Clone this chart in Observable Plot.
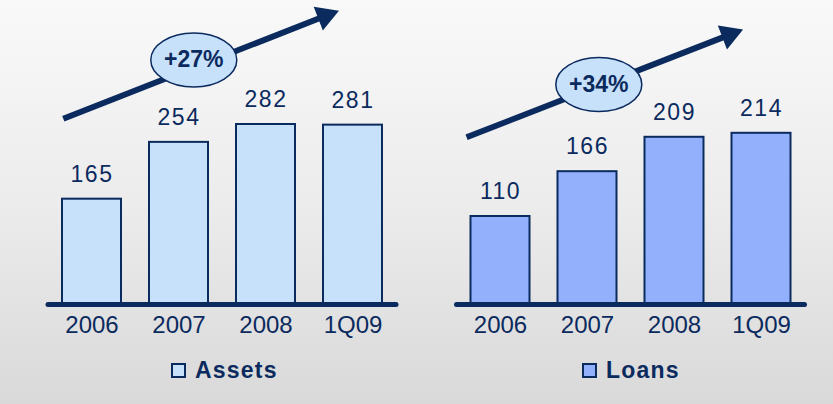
<!DOCTYPE html>
<html>
<head>
<meta charset="utf-8">
<script src="https://cdn.jsdelivr.net/npm/d3@7"></script>
<script src="https://cdn.jsdelivr.net/npm/@observablehq/plot@0.6"></script>
<style>
  html, body { margin: 0; padding: 0; }
  #wrap {
    position: relative; width: 833px; height: 404px; overflow: hidden;
    background: linear-gradient(to bottom, #f9f9f9 0%, #ececec 50%, #d9d9d9 100%);
    font-family: "Liberation Sans", Arial, sans-serif;
  }
  .panel { position: absolute; top: 0; }
  .legend {
    position: absolute; top: 358px; height: 24px; display: flex; align-items: center; gap: 9px;
    font-size: 23px; font-weight: bold; color: #0b2a5e; letter-spacing: 1.2px;
  }
  .legend .sw { width: 15px; height: 15px; box-sizing: border-box; border: 2px solid #0b2a5e; }
</style>
</head>
<body>
<div id="wrap"></div>
<script>
// ---- data ----
const categories = ["2006", "2007", "2008", "1Q09"];
const assets = [165, 254, 282, 281];
const loans = [110, 166, 209, 214];
const seriesNames = ["Assets", "Loans"];
const growthLabels = ["+27%", "+34%"];
// trend-arrow annotations in data units: [start index, start value, head index, head value]
const assetsArrow = [-0.33, 291, 2.68, 452];
const loansArrow = [-0.39, 209, 2.63, 337];
// growth badge centres in data units: [index, value]
const assetsBadge = [1.17, 383];
const loansBadge = [1.13, 275];

const NAVY = "#0b2a5e";
const FONT = "'Liberation Sans', Arial, sans-serif";

const ellipseSymbol = {
  draw(ctx) {
    const rx = 43, ry = 27, k = 0.5523;
    ctx.moveTo(rx, 0);
    ctx.bezierCurveTo(rx, ry * k, rx * k, ry, 0, ry);
    ctx.bezierCurveTo(-rx * k, ry, -rx, ry * k, -rx, 0);
    ctx.bezierCurveTo(-rx, -ry * k, -rx * k, -ry, 0, -ry);
    ctx.bezierCurveTo(rx * k, -ry, rx, -ry * k, rx, 0);
    ctx.closePath();
  }
};

function panel({values, fill, yMax, width, marginLeft, marginRight, arrow, badge, growth}) {
  const data = categories.map((c, i) => ({i, cat: c, value: values[i]}));
  const arrowData = [{x1: arrow[0], y1: arrow[1], x2: arrow[2], y2: arrow[3]}];
  const badgeData = [{x: badge[0], y: badge[1], label: growth}];
  const svg = Plot.plot({
    width, height: 345,
    marginTop: 4, marginBottom: 41, marginLeft, marginRight,
    x: {type: "linear", domain: [-0.5, 3.5], axis: null},
    y: {domain: [0, yMax], axis: null},
    style: {background: "transparent", fontFamily: FONT, overflow: "visible"},
    marks: [
      Plot.link(arrowData, {x1: "x1", y1: "y1", x2: "x2", y2: "y2", stroke: NAVY, strokeWidth: 6, strokeLinecap: "butt"}),
      Plot.dot(arrowData, {x: "x2", y: "y2", symbol: "triangle", r: 9.5, rotate: 69, fill: NAVY, stroke: "none"}),
      Plot.dot(badgeData, {x: "x", y: "y", symbol: ellipseSymbol, fill: "#c8e1fb", stroke: NAVY, strokeWidth: 1.5}),
      Plot.text(badgeData, {x: "x", y: "y", text: "label", fontSize: 23, fontWeight: "bold", fill: NAVY}),
      Plot.rectY(data, {x1: d => d.i - 0.5, x2: d => d.i + 0.5, y: "value", insetLeft: 14, insetRight: 14,
        fill, stroke: NAVY, strokeWidth: 2}),
      Plot.ruleY([0], {stroke: NAVY, strokeWidth: 5, strokeLinecap: "round"}),
      Plot.text(data, {x: "i", y: "value", text: d => String(d.value), dy: -25, fontSize: 23, fill: NAVY}),
      Plot.text(data, {x: "i", y: 0, text: "cat", dy: 21, fontSize: 24, fill: NAVY})
    ]
  });
  const textGroups = svg.querySelectorAll('g[aria-label="text"]');
  if (textGroups[1]) textGroups[1].setAttribute("letter-spacing", "1.5");
  return svg;
}

const wrap = document.getElementById("wrap");

const left = panel({values: assets, fill: "#c8e1fb", yMax: 470, width: 420, marginLeft: 48, marginRight: 24,
  arrow: assetsArrow, badge: assetsBadge, growth: growthLabels[0]});
left.classList.add("panel"); left.style.left = "0px";
wrap.appendChild(left);

const right = panel({values: loans, fill: "#93b0fc", yMax: 375, width: 413, marginLeft: 36.5, marginRight: 28.5,
  arrow: loansArrow, badge: loansBadge, growth: growthLabels[1]});
right.classList.add("panel"); right.style.left = "420px";
wrap.appendChild(right);

function legend(name, fill, leftPx) {
  const d = document.createElement("div");
  d.className = "legend";
  d.style.left = leftPx + "px";
  const sw = document.createElement("span");
  sw.className = "sw"; sw.style.background = fill;
  const t = document.createElement("span");
  t.textContent = name;
  d.appendChild(sw); d.appendChild(t);
  wrap.appendChild(d);
}
legend(seriesNames[0], "#c8e1fb", 171);
legend(seriesNames[1], "#93b0fc", 582);
</script>
</body>
</html>
